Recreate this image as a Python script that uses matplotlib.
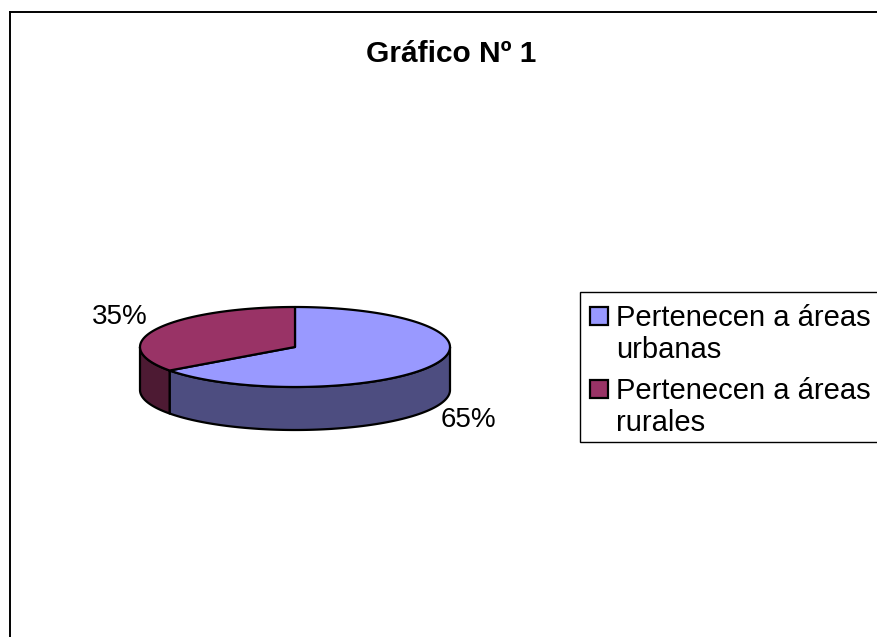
import numpy as np
import matplotlib
matplotlib.use("Agg")
import matplotlib.pyplot as plt
from matplotlib.patches import Polygon, Rectangle

plt.rcParams['font.family'] = ['Liberation Sans', 'DejaVu Sans']

# ---- data ----
title = "Gráfico Nº 1"
categories = ["Pertenecen a áreas\nurbanas", "Pertenecen a áreas\nrurales"]
values = [65, 35]
top_colors = ["#9999FF", "#993366"]
side_colors = ["#4D4D80", "#4D1A33"]

W, H = 878, 637
fig = plt.figure(figsize=(W / 100, H / 100), dpi=100)
ax = fig.add_axes([0, 0, 1, 1])
ax.set_xlim(0, W)
ax.set_ylim(H, 0)
ax.axis('off')

# chart border (extends past right/bottom edges)
ax.plot([10, W + 5], [12, 12], color='black', lw=1.4, clip_on=False)
ax.plot([10, 10], [12, H + 5], color='black', lw=1.4, clip_on=False)

ax.text(451, 54, title, ha='center', va='center', fontsize=21.5, fontweight='bold')

# 3D pie geometry (pixel space, y down)
cx, cy, a, b, depth = 295, 347, 155, 40, 43
total = sum(values)
fracs = np.array(values) / total
starts = -90 + 360 * np.concatenate([[0], np.cumsum(fracs)[:-1]])
ends = starts + 360 * fracs

def ell(t, dy=0):
    t = np.radians(t)
    return np.column_stack([cx + a * np.cos(t), cy + b * np.sin(t) + dy])

# side walls (front half only: t in [0, 180])
for s, e, sc in zip(starts, ends, side_colors):
    for lo, hi in [(s, e), (s - 360, e - 360), (s + 360, e + 360)]:
        l, h = max(lo, 0), min(hi, 180)
        if h > l:
            t = np.linspace(l, h, 200)
            pts = np.vstack([ell(t), ell(t[::-1], depth)])
            ax.add_patch(Polygon(pts, closed=True, facecolor=sc, edgecolor='black', lw=1.6, joinstyle='round'))

# top faces
for s, e, tc in zip(starts, ends, top_colors):
    t = np.linspace(s, e, 300)
    pts = np.vstack([[cx, cy], ell(t)])
    ax.add_patch(Polygon(pts, closed=True, facecolor=tc, edgecolor='black', lw=1.6, joinstyle='round'))

# percentage labels
label_pos = [(468, 420), (120, 317)]
for v, (lx, ly) in zip(values, label_pos):
    ax.text(lx, ly, f"{v}%", ha='center', va='center', fontsize=20)

# legend (manual, right border clipped by figure edge)
ax.add_patch(Rectangle((580, 292), 340, 150, facecolor='white', edgecolor='black', lw=1.0, clip_on=False))
y0 = 326
for i, (lab, tc) in enumerate(zip(categories, top_colors)):
    base = y0 + i * 73
    ax.add_patch(Rectangle((590, base - 19), 18, 18, facecolor=tc, edgecolor='black', lw=1.6))
    for j, line in enumerate(lab.split("\n")):
        ax.text(616, base + j * 32, line, ha='left', va='baseline', fontsize=21)

fig.savefig("out.png", dpi=100)
